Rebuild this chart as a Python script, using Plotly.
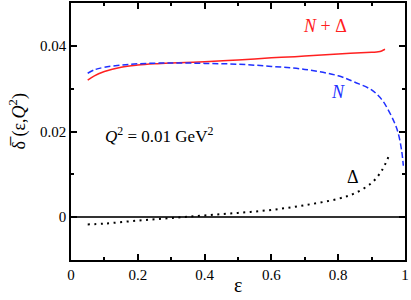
import plotly.graph_objects as go

# data
eps_sum = [0.05, 0.07, 0.1, 0.15, 0.2, 0.25, 0.3, 0.4, 0.5, 0.6, 0.7, 0.8, 0.9, 0.92, 0.93, 0.94]
delta_sum = [0.0320, 0.0330, 0.0340, 0.0350, 0.0355, 0.0358, 0.0360, 0.0363, 0.0367, 0.0372, 0.0376, 0.0381, 0.0385, 0.0386, 0.0388, 0.0392]

eps_N = [0.05, 0.07, 0.1, 0.15, 0.2, 0.3, 0.4, 0.5, 0.6, 0.7, 0.8, 0.85, 0.9, 0.93, 0.95, 0.97, 0.98, 0.99, 0.995]
delta_N = [0.0336, 0.0344, 0.0350, 0.0355, 0.0358, 0.0360, 0.0359, 0.0357, 0.0352, 0.0345, 0.0330, 0.0315, 0.0297, 0.0275, 0.0250, 0.0218, 0.0195, 0.0155, 0.0120]

eps_D = [0.05, 0.1, 0.2, 0.3, 0.4, 0.5, 0.6, 0.7, 0.8, 0.85, 0.9, 0.93, 0.95]
delta_D = [-0.0017, -0.0015, -0.0008, -0.0002, 0.0004, 0.0010, 0.0017, 0.0028, 0.0043, 0.0056, 0.0080, 0.0108, 0.0140]

x_ticks = [0, 0.2, 0.4, 0.6, 0.8, 1]
x_labels = ["0", "0.2", "0.4", "0.6", "0.8", "1"]
y_ticks = [0, 0.02, 0.04]
y_labels = ["0", "0.02", "0.04"]

FONT = "Liberation Serif"

fig = go.Figure()
fig.add_trace(go.Scatter(x=eps_sum, y=delta_sum, mode="lines",
                         line=dict(color="#ff2020", width=1.5, shape="spline")))
fig.add_trace(go.Scatter(x=eps_N, y=delta_N, mode="lines",
                         line=dict(color="#2030ff", width=1.5, dash="6px,3px", shape="spline")))
fig.add_trace(go.Scatter(x=eps_D, y=delta_D, mode="lines",
                         line=dict(color="black", width=2, dash="2px,4.5px", shape="spline")))

axis_common = dict(showline=True, linecolor="black", linewidth=1.5, mirror="ticks",
                   ticks="inside", ticklen=6, tickwidth=1.5, tickcolor="black",
                   showgrid=False,
                   tickfont=dict(family=FONT, size=15, color="black"))

fig.update_xaxes(range=[0, 1], tickvals=x_ticks, ticktext=x_labels,
                 minor=dict(ticks="inside", ticklen=3, tickwidth=1.5, tickcolor="black", dtick=0.1, showgrid=False),
                 zeroline=False, **axis_common)
fig.update_yaxes(range=[-0.01, 0.05], tickvals=y_ticks, ticktext=y_labels,
                 minor=dict(ticks="inside", ticklen=3, tickwidth=1.5, tickcolor="black", dtick=0.01, showgrid=False),
                 zeroline=True, zerolinecolor="#333", zerolinewidth=1.5, **axis_common)

# axis titles as annotations for exact placement
fig.add_annotation(xref="paper", yref="paper", x=-0.158, y=0.54, textangle=-90,
                   xanchor="center", yanchor="middle",
                   text="δ\u0305 (ε,<i>Q</i><sup>2</sup>)", showarrow=False,
                   font=dict(family=FONT, size=18, color="black"))
fig.add_annotation(xref="paper", yref="paper", x=0.5, y=-0.097,
                   xanchor="center", yanchor="middle",
                   text="ε", showarrow=False,
                   font=dict(family=FONT, size=20, color="black"))

ann_font = dict(family=FONT, size=18)
fig.add_annotation(x=0.76, y=0.0447, text="<i>N</i> + Δ", showarrow=False,
                   font=dict(color="#ff2020", **ann_font))
fig.add_annotation(x=0.80, y=0.0293, text="<i>N</i>", showarrow=False,
                   font=dict(color="#2030ff", **ann_font))
fig.add_annotation(x=0.843, y=0.0093, text="Δ", showarrow=False,
                   font=dict(color="black", **ann_font))
fig.add_annotation(x=0.264, y=0.0192, text="<i>Q</i><sup>2</sup> = 0.01 GeV<sup>2</sup>", showarrow=False,
                   font=dict(color="black", family=FONT, size=17))

fig.update_layout(width=411, height=300, showlegend=False,
                  font=dict(family=FONT, color="black"),
                  margin=dict(l=71, r=6, t=1, b=40),
                  plot_bgcolor="white", paper_bgcolor="white")

fig.write_html("out.html", config={"displayModeBar": False},
               post_script="document.body.style.margin='0';")
